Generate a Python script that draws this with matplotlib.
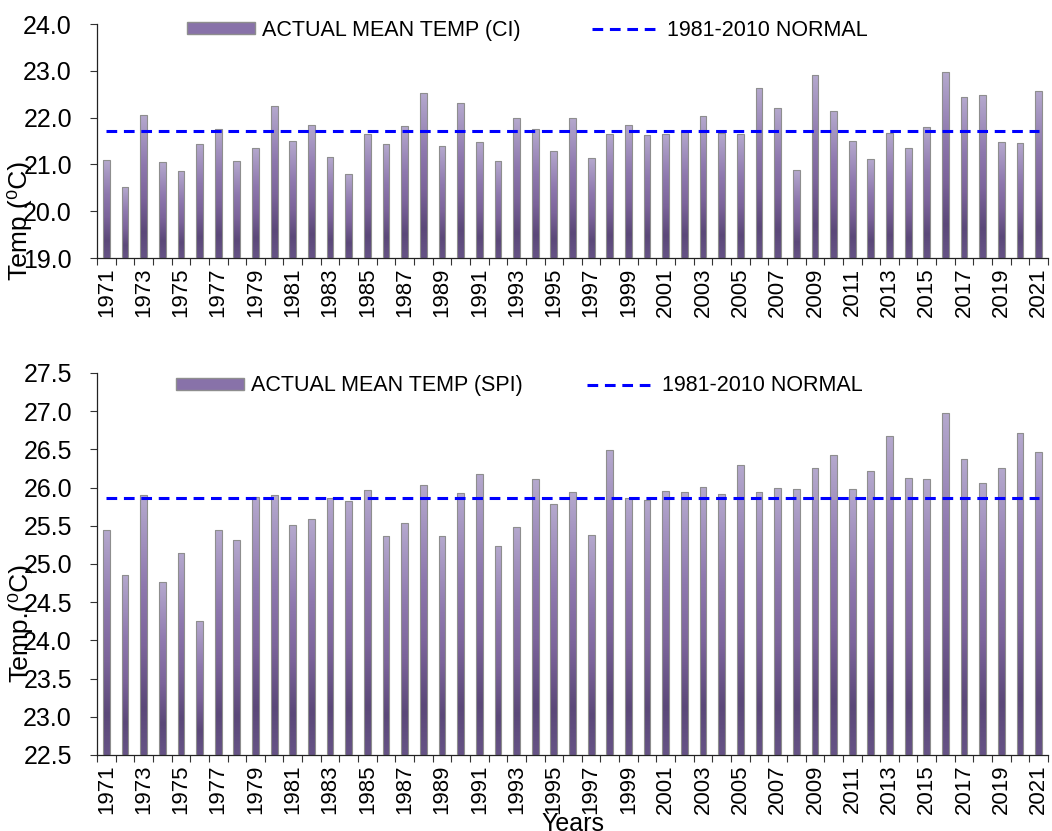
import matplotlib

matplotlib.use("Agg")
import matplotlib.pyplot as plt
import numpy as np
from matplotlib.colors import LinearSegmentedColormap
from matplotlib.lines import Line2D
from matplotlib.patches import Patch

plt.rcParams["font.family"] = ["Liberation Sans", "DejaVu Sans"]

# 数据
years = list(range(1971, 2022))

ci_temp = [21.09, 20.51, 22.05, 21.05, 20.85, 21.44, 21.75, 21.07, 21.36, 22.24,
           21.50, 21.84, 21.15, 20.79, 21.64, 21.43, 21.82, 22.52, 21.39, 22.31,
           21.47, 21.07, 21.99, 21.75, 21.29, 21.99, 21.13, 21.64, 21.84, 21.62,
           21.64, 21.72, 22.03, 21.67, 21.64, 22.64, 22.20, 20.87, 22.91, 22.14,
           21.49, 21.11, 21.67, 21.34, 21.80, 22.97, 22.44, 22.48, 21.47, 21.46,
           22.57]
ci_normal = 21.72

spi_temp = [25.45, 24.86, 25.90, 24.76, 25.15, 24.26, 25.44, 25.31, 25.88, 25.90,
            25.51, 25.59, 25.87, 25.82, 25.97, 25.36, 25.54, 26.04, 25.37, 25.93,
            26.18, 25.24, 25.49, 26.11, 25.78, 25.94, 25.38, 26.49, 25.86, 25.84,
            25.96, 25.94, 26.01, 25.92, 26.30, 25.94, 25.99, 25.98, 26.25, 26.43,
            25.98, 26.22, 26.67, 26.12, 26.11, 26.98, 26.38, 26.06, 26.26, 26.71,
            26.46]
spi_normal = 25.86

# 柱子渐变色（底部深、顶部浅）
bar_cmap = LinearSegmentedColormap.from_list(
    "bar",
    [(0.0, "#665386"), (0.18, "#5b4879"), (0.42, "#7c649b"),
     (0.65, "#8e78ae"), (1.0, "#b5a9ce")],
)
grad = np.linspace(0, 1, 256).reshape(-1, 1)

DASH = (0, (3.5, 2.2))


def draw_panel(ax, values, normal, ymin, ymax, step, bar_label,
               legend_x, legend_y, colspace):
    x = np.arange(len(years))
    heights = np.array(values) - ymin
    bars = ax.bar(x, heights, bottom=ymin, width=0.36, facecolor="none",
                  edgecolor="#8e8e8e", linewidth=0.8, zorder=3)
    for b in bars:
        bx, w = b.get_x(), b.get_width()
        im = ax.imshow(grad, cmap=bar_cmap, origin="lower", aspect="auto",
                       extent=[bx, bx + w, ymin, ymin + b.get_height()], zorder=2)
        im.set_clip_path(b)

    ax.plot(x, [normal] * len(years), color="#0000ff", linewidth=2.2,
            linestyle=DASH, zorder=4)

    ax.set_xlim(-0.5, len(years) - 0.5)
    ax.set_ylim(ymin, ymax)
    yt = np.arange(ymin, ymax + step / 2, step)
    ax.set_yticks(yt)
    ax.set_yticklabels([f"{v:.1f}" for v in yt])

    # 刻度在柱子之间，标签每隔一年
    ax.set_xticks(np.arange(-0.5, len(years), 1.0))
    ax.set_xticklabels([])
    ax.set_xticks(x[::2], minor=True)
    ax.set_xticklabels([str(y) for y in years[::2]], minor=True, rotation=90)
    ax.tick_params(axis="x", which="major", length=5, width=0.8, color="#333333")
    ax.tick_params(axis="x", which="minor", length=0, pad=7, labelsize=16)
    ax.tick_params(axis="y", length=5, width=0.8, color="#333333", labelsize=18, pad=13)

    for s in ["top", "right"]:
        ax.spines[s].set_visible(False)
    for s in ["left", "bottom"]:
        ax.spines[s].set_color("#222222")
        ax.spines[s].set_linewidth(0.9)

    handles = [
        Patch(facecolor="#8872a9", edgecolor="#8e8e8e", label=bar_label),
        Line2D([], [], color="#0000ff", linewidth=2.2, linestyle=DASH,
               label="1981-2010 NORMAL"),
    ]
    ax.legend(handles=handles, loc="center left", bbox_to_anchor=(legend_x, legend_y),
              ncol=2, frameon=False, fontsize=15.5, handlelength=3.16, handleheight=0.5,
              handletextpad=0.33, columnspacing=colspace, borderpad=0, borderaxespad=0)


fig = plt.figure(figsize=(10.52, 8.31), dpi=100)
W, H = 1052, 831

ax1 = fig.add_axes([97 / W, 1 - 258 / H, 951 / W, 234 / H])
draw_panel(ax1, ci_temp, ci_normal, 19.0, 24.0, 1.0,
           "ACTUAL MEAN TEMP (CI)", 0.0946, 0.974, 3.3)

ax2 = fig.add_axes([97 / W, 1 - 755 / H, 951 / W, 382 / H])
draw_panel(ax2, spi_temp, spi_normal, 22.5, 27.5, 0.5,
           "ACTUAL MEAN TEMP (SPI)", 0.083, 0.966, 2.97)

fig.text(20 / W, 1 - 220 / H, "Temp (\u2070C)", rotation=90, fontsize=19,
         ha="center", va="center")
fig.text(20 / W, 1 - 623 / H, "Temp.(\u2070C)", rotation=90, fontsize=19,
         ha="center", va="center")
fig.text(573 / W, 1 - 812 / H, "Years", fontsize=18, ha="center", va="top")

fig.savefig("out.png", dpi=100)
